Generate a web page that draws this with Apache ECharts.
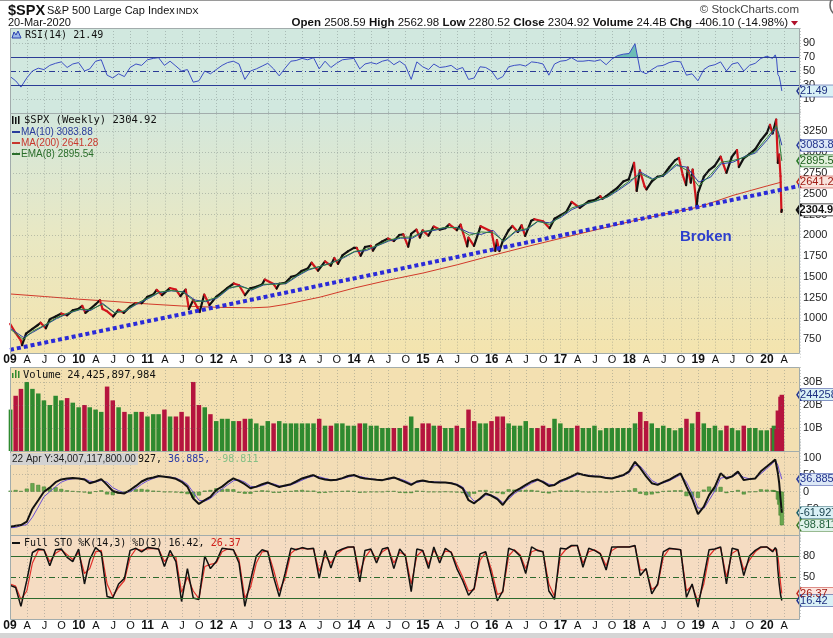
<!DOCTYPE html>
<html>
<head>
<meta charset="utf-8">
<title>$SPX S&amp;P 500 Large Cap Index - weekly</title>
<script src="https://cdn.jsdelivr.net/npm/echarts@6/dist/echarts.min.js"></script>
<style>
  html, body { margin: 0; padding: 0; background: #fff; }
  #chart { width: 833px; height: 638px; }
</style>
</head>
<body>
<div id="chart"></div>
<script>
// ---- data ----
// weekly close / swing points of $SPX
const spx = [
  ['2009-01-02', 931], ['2009-01-30', 826], ['2009-02-27', 735], ['2009-03-06', 676], ['2009-03-27', 816],
  ['2009-04-30', 873], ['2009-05-29', 919], ['2009-06-12', 946], ['2009-07-10', 880], ['2009-07-31', 987],
  ['2009-08-31', 1021], ['2009-09-30', 1057], ['2009-10-30', 1036], ['2009-11-30', 1096], ['2009-12-31', 1115],
  ['2010-01-19', 1150], ['2010-02-05', 1066], ['2010-02-26', 1104], ['2010-03-31', 1169], ['2010-04-23', 1217],
  ['2010-05-07', 1111], ['2010-05-28', 1089], ['2010-07-02', 1022], ['2010-07-30', 1102], ['2010-08-27', 1065],
  ['2010-09-30', 1141], ['2010-10-29', 1183], ['2010-11-30', 1181], ['2010-12-31', 1258],
  ['2011-01-31', 1286], ['2011-02-18', 1343], ['2011-03-18', 1279], ['2011-04-29', 1364], ['2011-05-31', 1345],
  ['2011-06-24', 1268], ['2011-07-22', 1346], ['2011-08-08', 1110], ['2011-08-31', 1219], ['2011-09-22', 1130],
  ['2011-10-04', 1075], ['2011-10-28', 1285], ['2011-11-25', 1159], ['2011-12-30', 1258],
  ['2012-01-31', 1312], ['2012-02-29', 1366], ['2012-04-02', 1419], ['2012-04-30', 1398], ['2012-06-01', 1278],
  ['2012-06-29', 1362], ['2012-07-31', 1379], ['2012-08-31', 1407], ['2012-09-14', 1466], ['2012-10-31', 1412],
  ['2012-11-16', 1359], ['2012-11-30', 1416], ['2012-12-31', 1426],
  ['2013-01-31', 1498], ['2013-02-28', 1515], ['2013-03-28', 1569], ['2013-04-30', 1598], ['2013-05-21', 1669],
  ['2013-06-24', 1573], ['2013-07-31', 1686], ['2013-08-30', 1633], ['2013-09-18', 1725], ['2013-10-08', 1656],
  ['2013-10-31', 1757], ['2013-11-29', 1806], ['2013-12-31', 1848],
  ['2014-01-15', 1848], ['2014-02-05', 1752], ['2014-02-28', 1859], ['2014-03-31', 1872], ['2014-04-11', 1815],
  ['2014-04-30', 1884], ['2014-05-30', 1924], ['2014-06-30', 1960], ['2014-07-31', 1931], ['2014-08-29', 2003],
  ['2014-09-19', 2011], ['2014-10-15', 1862], ['2014-10-31', 2018], ['2014-11-28', 2068], ['2014-12-16', 1973],
  ['2014-12-31', 2059],
  ['2015-01-30', 1995], ['2015-02-27', 2105], ['2015-03-31', 2068], ['2015-04-30', 2086], ['2015-05-21', 2131],
  ['2015-06-30', 2063], ['2015-07-20', 2128], ['2015-08-24', 1867], ['2015-08-31', 1972], ['2015-09-29', 1872],
  ['2015-10-30', 2079], ['2015-11-03', 2109], ['2015-12-31', 2044],
  ['2016-01-20', 1812], ['2016-01-29', 1940], ['2016-02-11', 1810], ['2016-02-29', 1932], ['2016-03-31', 2060],
  ['2016-04-20', 2111], ['2016-05-19', 2040], ['2016-06-08', 2120], ['2016-06-27', 1992], ['2016-07-29', 2174],
  ['2016-08-15', 2193], ['2016-09-30', 2168], ['2016-11-04', 2085], ['2016-11-30', 2199], ['2016-12-30', 2239],
  ['2017-01-31', 2279], ['2017-03-01', 2401], ['2017-04-13', 2329], ['2017-05-31', 2412], ['2017-06-30', 2423],
  ['2017-07-31', 2470], ['2017-08-11', 2438], ['2017-08-31', 2472], ['2017-09-29', 2519], ['2017-10-31', 2575],
  ['2017-11-30', 2648], ['2017-12-29', 2674],
  ['2018-01-26', 2873], ['2018-02-09', 2533], ['2018-02-26', 2780], ['2018-03-23', 2588], ['2018-04-02', 2553],
  ['2018-04-30', 2648], ['2018-05-31', 2705], ['2018-06-29', 2718], ['2018-07-31', 2816], ['2018-08-31', 2902],
  ['2018-09-21', 2930], ['2018-10-11', 2728], ['2018-10-29', 2603], ['2018-11-07', 2814], ['2018-11-23', 2633],
  ['2018-12-03', 2790], ['2018-12-24', 2351], ['2018-12-31', 2507],
  ['2019-01-31', 2704], ['2019-02-28', 2784], ['2019-03-29', 2834], ['2019-04-30', 2946], ['2019-05-31', 2752],
  ['2019-06-28', 2942], ['2019-07-26', 3026], ['2019-08-05', 2822], ['2019-08-30', 2926], ['2019-09-30', 2977],
  ['2019-10-31', 3038], ['2019-11-29', 3141], ['2019-12-31', 3231],
  ['2020-01-17', 3330], ['2020-01-31', 3226], ['2020-02-19', 3393], ['2020-02-28', 2870], ['2020-03-06', 2972],
  ['2020-03-13', 2711], ['2020-03-18', 2281], ['2020-03-20', 2304.92]
];

const ma10 = [
  ['2009-01-02', 880], ['2009-03-13', 770], ['2009-05-01', 830], ['2009-07-02', 910], ['2009-09-04', 995],
  ['2009-11-06', 1060], ['2010-01-08', 1105], ['2010-03-05', 1095], ['2010-05-07', 1180], ['2010-07-09', 1070],
  ['2010-09-03', 1085], ['2010-11-05', 1170], ['2011-01-07', 1240], ['2011-03-04', 1310], ['2011-05-06', 1330],
  ['2011-07-08', 1320], ['2011-09-09', 1220], ['2011-11-04', 1200], ['2012-01-06', 1245], ['2012-03-09', 1360],
  ['2012-05-04', 1395], ['2012-07-06', 1340], ['2012-09-07', 1400], ['2012-11-09', 1420], ['2013-01-04', 1415],
  ['2013-03-08', 1510], ['2013-05-03', 1580], ['2013-07-05', 1625], ['2013-09-06', 1670], ['2013-11-08', 1730],
  ['2014-01-03', 1800], ['2014-03-07', 1815], ['2014-05-02', 1870], ['2014-07-04', 1930], ['2014-09-05', 1965],
  ['2014-11-07', 1965], ['2015-01-02', 2040], ['2015-03-06', 2060], ['2015-05-01', 2090], ['2015-07-03', 2095],
  ['2015-09-04', 2030], ['2015-11-06', 2010], ['2016-01-08', 2060], ['2016-03-04', 1920], ['2016-05-06', 2040],
  ['2016-07-08', 2070], ['2016-09-02', 2165], ['2016-11-04', 2150], ['2017-01-06', 2220], ['2017-03-03', 2310],
  ['2017-05-05', 2370], ['2017-07-07', 2410], ['2017-09-08', 2460], ['2017-11-03', 2540], ['2018-01-05', 2640],
  ['2018-03-02', 2760], ['2018-05-04', 2680], ['2018-07-06', 2720], ['2018-09-07', 2840], ['2018-11-02', 2820],
  ['2019-01-04', 2640], ['2019-03-08', 2700], ['2019-05-03', 2860], ['2019-07-05', 2880], ['2019-09-06', 2950],
  ['2019-11-01', 2990], ['2020-01-03', 3150], ['2020-02-21', 3300], ['2020-03-06', 3210], ['2020-03-20', 3083.88]
];

const ema8 = [
  ['2009-01-02', 870], ['2009-03-13', 745], ['2009-05-01', 845], ['2009-07-02', 915], ['2009-09-04', 1005],
  ['2009-11-06', 1065], ['2010-01-08', 1110], ['2010-03-05', 1105], ['2010-05-07', 1170], ['2010-07-09', 1065],
  ['2010-09-03', 1090], ['2010-11-05', 1180], ['2011-01-07', 1250], ['2011-03-04', 1315], ['2011-05-06', 1335],
  ['2011-07-08', 1315], ['2011-09-09', 1200], ['2011-11-04', 1210], ['2012-01-06', 1255], ['2012-03-09', 1370],
  ['2012-05-04', 1385], ['2012-07-06', 1345], ['2012-09-07', 1410], ['2012-11-09', 1410], ['2013-01-04', 1425],
  ['2013-03-08', 1520], ['2013-05-03', 1590], ['2013-07-05', 1625], ['2013-09-06', 1665], ['2013-11-08', 1740],
  ['2014-01-03', 1805], ['2014-03-07', 1830], ['2014-05-02', 1875], ['2014-07-04', 1940], ['2014-09-05', 1975],
  ['2014-11-07', 1980], ['2015-01-02', 2045], ['2015-03-06', 2070], ['2015-05-01', 2095], ['2015-07-03', 2090],
  ['2015-09-04', 2000], ['2015-11-06', 2040], ['2016-01-08', 2030], ['2016-03-04', 1930], ['2016-05-06', 2050],
  ['2016-07-08', 2080], ['2016-09-02', 2170], ['2016-11-04', 2130], ['2017-01-06', 2235], ['2017-03-03', 2330],
  ['2017-05-05', 2375], ['2017-07-07', 2415], ['2017-09-08', 2465], ['2017-11-03', 2555], ['2018-01-05', 2660],
  ['2018-03-02', 2740], ['2018-05-04', 2670], ['2018-07-06', 2730], ['2018-09-07', 2860], ['2018-11-02', 2780],
  ['2019-01-04', 2590], ['2019-03-08', 2730], ['2019-05-03', 2880], ['2019-07-05', 2900], ['2019-09-06', 2940],
  ['2019-11-01', 3010], ['2020-01-03', 3180], ['2020-02-21', 3320], ['2020-03-06', 3150], ['2020-03-20', 2895.54]
];

const ma200 = [
  ['2009-01-02', 1293], ['2009-07-03', 1262], ['2010-01-01', 1230], ['2010-07-02', 1203], ['2011-01-07', 1172],
  ['2011-07-01', 1148], ['2012-01-06', 1132], ['2012-07-06', 1126], ['2012-10-05', 1135], ['2013-01-04', 1168],
  ['2013-07-05', 1255], ['2014-01-03', 1365], ['2014-07-04', 1460], ['2015-01-02', 1545], ['2015-07-03', 1645],
  ['2016-01-01', 1755], ['2016-07-01', 1860], ['2017-01-06', 1965], ['2017-07-07', 2065], ['2018-01-05', 2165],
  ['2018-07-06', 2255], ['2019-01-04', 2340], ['2019-07-05', 2480], ['2020-01-03', 2595], ['2020-03-20', 2641.28]
];

// hand-drawn support line
const trendLine = [['2009-01-01', 620], ['2020-06-24', 2595]];

// indicator panels: one value per month end, then the last weeks of 2020
const lastWeeks = ['2020-02-07', '2020-02-14', '2020-02-21', '2020-02-28', '2020-03-06', '2020-03-13', '2020-03-20'];

const rsi = [42,
  36, 27, 40, 50, 54, 52, 58, 61, 63, 55, 60, 62,   // 2009
  50, 53, 64, 66, 44, 40, 46, 42, 55, 60, 58, 66,   // 2010
  68, 69, 58, 64, 57, 50, 52, 34, 36, 50, 46, 52,   // 2011
  58, 62, 64, 60, 38, 50, 53, 57, 61, 53, 43, 54,   // 2012
  64, 65, 68, 66, 69, 53, 64, 55, 61, 66, 67, 68,   // 2013
  53, 60, 62, 60, 64, 66, 59, 64, 58, 38, 63, 56,   // 2014
  52, 60, 55, 56, 58, 52, 55, 38, 40, 56, 55, 50,   // 2015
  38, 42, 56, 58, 59, 57, 63, 62, 60, 44, 60, 64,   // 2016
  65, 69, 64, 64, 65, 64, 66, 59, 67, 72, 74, 75,   // 2017
  89, 50, 46, 52, 57, 58, 62, 64, 63, 44, 46, 36,   // 2018
  52, 57, 59, 63, 50, 60, 62, 50, 58, 61, 68, 71,   // 2019
  68, 70, 73, 67, 45, 42, 33, 21.49];               // 2020

// weekly volume, billions
const volume = [18,
  24, 27, 30, 27, 25, 22, 20, 24, 22, 23, 21, 19,
  20, 19, 18, 17, 28, 22, 19, 17, 16, 17, 17, 15,
  16, 16, 18, 15, 15, 17, 15, 30, 20, 19, 16, 13,
  14, 14, 13, 13, 14, 14, 12, 11, 13, 12, 13, 12,
  12, 12, 12, 12, 12, 14, 11, 11, 12, 12, 11, 11,
  12, 12, 11, 11, 10, 10, 10, 10, 11, 15, 10, 12,
  12, 11, 11, 10, 10, 11, 10, 18, 13, 12, 12, 13,
  15, 15, 12, 11, 11, 13, 10, 10, 11, 10, 14, 12,
  10, 10, 11, 10, 10, 11, 9, 10, 10, 10, 10, 10,
  12, 17, 13, 12, 10, 11, 10, 9, 10, 14, 12, 17,
  12, 10, 11, 9, 11, 10, 9, 11, 10, 10, 9, 9,
  10, 11, 9, 9.5, 17.6, 14, 23.6, 24.43];
const volumeDir = 'g' +
  'rrgggggggrgg' + 'rgggrrgrggrg' + 'ggrgrrrrrgrg' + 'gggrrggggrgg' +
  'gggggrgrgggg' + 'rgggggrgrggr' + 'rgrggrgrrggr' + 'rrgggggrrrgg' +
  'ggrggggggggg' + 'grrggggggrgr' + 'ggggrggrgggg' + 'rggrrrrr';

const oscLine = [-103,
  -100, -98, -88, -50, -25, 0, 12, 28, 36, 39, 40, 39,
  36, 25, 30, 37, 20, 2, -3, -5, 5, 17, 30, 38,
  42, 46, 44, 42, 38, 29, 15, -20, -36, -25, -15, 5,
  15, 28, 39, 32, 22, 10, 15, 22, 27, 20, 14, 18,
  22, 30, 39, 44, 49, 40, 36, 34, 35, 40, 46, 49,
  42, 39, 37, 35, 34, 38, 42, 35, 28, 20, 30, 33,
  29, 28, 27, 27, 25, 20, 10, -25, -34, -20, -5, -12,
  -22, -39, -15, 0, 10, 20, 30, 36, 28, 17, 20, 32,
  38, 45, 54, 50, 46, 45, 44, 40, 39, 44, 49, 60,
  88, 69, 45, 25, 20, 28, 35, 45, 54, 15, -20, -66,
  -44, -10, 15, 54, 39, 45, 59, 34, 37, 39, 60, 74,
  88, 92, 95, 93, 55, 25, -20, -61.927];
const oscSignal = [-106,
  -105, -100, -97, -75, -45, -15, 0, 15, 28, 35, 38, 39,
  38, 31, 29, 33, 28, 12, 3, -3, 0, 10, 22, 32,
  39, 44, 45, 43, 40, 33, 22, -2, -25, -28, -20, -5,
  8, 20, 32, 35, 28, 16, 13, 18, 24, 23, 17, 16,
  20, 26, 34, 41, 46, 44, 39, 35, 34, 38, 43, 47,
  45, 41, 38, 36, 35, 36, 40, 38, 32, 24, 27, 31,
  30, 29, 28, 27, 26, 22, 14, -10, -28, -24, -10, -10,
  -18, -32, -22, -6, 5, 15, 25, 33, 31, 22, 20, 28,
  35, 42, 50, 51, 48, 46, 45, 42, 40, 42, 47, 56,
  78, 75, 55, 33, 24, 26, 32, 41, 50, 28, -5, -48,
  -50, -25, 3, 40, 43, 44, 54, 42, 38, 39, 53, 68,
  83, 88, 93, 92, 78, 63, 50, 36.885];
const oscHist = [3,
  5, 2, 9, 25, 20, 15, 12, 13, 8, 4, 2, 0,
  -2, -6, 1, 4, -8, -10, -6, -2, 5, 7, 8, 6,
  3, 2, -1, -1, -2, -4, -7, -18, -11, 3, 5, 10,
  7, 8, 7, -3, -6, -6, 2, 4, 3, -3, -3, 2,
  2, 4, 5, 3, 3, -4, -3, -1, 1, 2, 3, 2,
  -3, -2, -1, -1, -1, 2, 2, -3, -4, -4, 3, 2,
  -1, -1, -1, 0, -1, -2, -4, -15, -6, 4, 5, -2,
  -4, -7, 7, 6, 5, 5, 5, 3, -3, -5, 0, 4,
  3, 3, 4, -1, -2, -1, -1, -2, -1, 2, 2, 4,
  10, -6, -10, -8, -4, 2, 3, 4, 4, -13, -15, -18,
  6, 15, 12, 14, -4, 1, 5, -8, -1, 0, 7, 6,
  5, 4, 2, 1, -23, -38, -70, -98.811];

const stoK = [38,
  35, 8, 45, 85, 90, 89, 66, 89, 90, 78, 72, 90,
  40, 75, 92, 85, 22, 20, 40, 48, 88, 91, 86, 92,
  91, 90, 65, 88, 72, 15, 62, 20, 18, 80, 62, 72,
  91, 90, 89, 70, 8, 45, 80, 89, 86, 50, 22, 55,
  91, 89, 92, 90, 91, 48, 88, 63, 86, 90, 93, 93,
  43, 88, 90, 70, 90, 92, 62, 90, 80, 29, 90, 88,
  62, 93, 70, 91, 85, 62, 45, 24, 34, 83, 86, 52,
  16, 30, 91, 88, 80, 55, 93, 88, 86, 30, 18, 91,
  90, 95, 95, 64, 91, 88, 83, 60, 93, 93, 93, 93,
  95, 52, 62, 26, 40, 86, 91, 90, 89, 21, 40, 7,
  50, 89, 90, 93, 40, 91, 89, 52, 80, 88, 93, 93,
  86, 88, 92, 89, 60, 40, 25, 16.42];
const stoD = [40,
  37, 18, 30, 70, 88, 89, 72, 84, 89, 82, 75, 85,
  55, 62, 86, 88, 40, 22, 35, 45, 78, 90, 88, 90,
  91, 90, 72, 82, 78, 28, 50, 30, 19, 65, 68, 70,
  86, 90, 89, 75, 20, 35, 70, 86, 87, 60, 30, 48,
  84, 90, 91, 90, 90, 58, 80, 70, 82, 89, 92, 93,
  55, 78, 89, 75, 86, 91, 70, 85, 82, 40, 80, 88,
  68, 88, 76, 87, 86, 68, 50, 30, 32, 74, 85, 60,
  25, 28, 80, 89, 82, 62, 86, 89, 86, 40, 22, 80,
  90, 94, 95, 70, 86, 89, 84, 66, 88, 93, 93, 93,
  94, 60, 60, 32, 38, 78, 90, 90, 89, 30, 38, 15,
  40, 80, 90, 92, 50, 84, 89, 60, 74, 86, 92, 93,
  88, 88, 90, 90, 80, 63, 42, 26.37];

const priceTicks = [750, 1000, 1250, 1500, 1750, 2000, 2250, 2500, 2750, 3000, 3250];
const rsiTicks = [10, 30, 50, 70, 90];
const volumeTicks = [10, 20, 30];
const oscTicks = [-100, -50, 0, 50, 100];
const stoTicks = [20, 50, 80];

// ---- helpers ----
const X_MIN = 2009, X_MAX = 2020.48;
const pad = n => String(n).padStart(2, '0');
function toYear(s) {
  const [y, m, d] = s.split('-').map(Number);
  const a = Date.UTC(y, 0, 1), b = Date.UTC(y + 1, 0, 1);
  return y + (Date.UTC(y, m - 1, d) - a) / (b - a);
}
const timeline = ['2009-01-02'];
for (let y = 2009; y <= 2019; y++) {
  for (let m = 1; m <= 12; m++) timeline.push(y + '-' + pad(m) + '-' + pad(new Date(Date.UTC(y, m, 0)).getUTCDate()));
}
timeline.push('2020-01-31', ...lastWeeks);
const tl = timeline.map(toYear);
const onTimeline = arr => arr.map((v, i) => [tl[i], v]);
const dated = arr => arr.map(([d, v]) => [toYear(d), v]);
const last = arr => arr[arr.length - 1];

const spxT = dated(spx);
const spxSegments = spxT.slice(1).map((p, i) => [spxT[i][0], spxT[i][1], p[0], p[1]]);

function quarterLabel(v) {
  const yr = Math.round(v);
  if (Math.abs(v - yr) < 1e-6) return '{y|' + String(yr).slice(2) + '}';
  const f = v - Math.floor(v);
  if (Math.abs(f * 4 - Math.round(f * 4)) > 1e-6) return '';
  return f < 0.3 ? 'A' : f < 0.6 ? 'J' : 'O';
}
const onlyTicks = (ticks, suffix) => v => (ticks.indexOf(v) >= 0 ? v + (suffix || '') : '');

function tag(value, text, border, fill, color, bold) {
  return {
    coord: [X_MAX, value],
    symbol: 'path://M0,6L6,0L60,0L60,12L6,12Z',
    symbolSize: [40, 12],
    symbolOffset: [17, 0],
    itemStyle: { color: fill, borderColor: border, borderWidth: bold ? 1.6 : 1 },
    label: {
      show: true, position: 'insideLeft', distance: 4, formatter: text, color: color,
      fontSize: 11, fontFamily: 'Liberation Sans', fontWeight: bold ? 'bold' : 'normal'
    }
  };
}

const gridLineStyle = { color: 'rgba(105,115,115,0.38)', type: [1, 2], width: 1 };

function xAx(i, show, margin) {
  return {
    gridIndex: i, type: 'value', min: X_MIN, max: X_MAX, interval: 0.25,
    axisLine: { show: false }, axisTick: { show: false },
    splitLine: { show: true, lineStyle: gridLineStyle },
    axisLabel: {
      show: show, margin: margin, verticalAlign: 'middle', color: '#111', fontSize: 11,
      fontFamily: 'Liberation Sans', formatter: quarterLabel, showMaxLabel: false,
      rich: { y: { fontSize: 12, fontWeight: 'bold', fontFamily: 'Liberation Sans', color: '#111' } }
    }
  };
}
function yAx(i, min, max, interval, fmt) {
  return {
    gridIndex: i, type: 'value', position: 'right', min, max, interval,
    axisLine: { show: false }, axisTick: { show: false }, splitLine: { show: false },
    axisLabel: { margin: 3, color: '#222', fontSize: 11, fontFamily: 'Liberation Sans', formatter: fmt }
  };
}
const faintLines = ticks => ({
  silent: true, symbol: 'none', label: { show: false },
  data: ticks.map(v => ({ yAxis: v, lineStyle: gridLineStyle }))
});

// ---- panel frames and texts ----
const panels = [
  { y0: 28, y1: 113, fill: '#d1e8df' },
  { y0: 113, y1: 353, fill: new echarts.graphic.LinearGradient(0, 0, 0, 1, [
      { offset: 0, color: '#d3e7dc' }, { offset: 0.5, color: '#e8e8c4' }, { offset: 1, color: '#f4e4ae' }]) },
  { y0: 367, y1: 451, fill: '#f3e0b1' },
  { y0: 451, y1: 535, fill: '#f3ddb6' },
  { y0: 535, y1: 619, fill: '#f5dcc2' }
];
const graphics = [];
panels.forEach(p => {
  graphics.push({ type: 'rect', z: -10, shape: { x: 10, y: p.y0, width: 790, height: p.y1 - p.y0 }, style: { fill: p.fill } });
  graphics.push({ type: 'rect', z: 50, shape: { x: 10.5, y: p.y0 + 0.5, width: 789, height: p.y1 - p.y0 }, style: { fill: 'none', stroke: '#a2acac', lineWidth: 1 } });
});
const mono = 'DejaVu Sans Mono';
function txt(x, y, text, font, fill, extra) {
  return { type: 'text', z: 60, x, y, style: Object.assign({ text, font, fill, verticalAlign: 'middle' }, extra || {}) };
}
graphics.push(
  { type: 'rect', z: 60, shape: { x: 0, y: 0, width: 833, height: 1 }, style: { fill: '#9a9a9a' } },
  { type: 'rect', z: 60, shape: { x: 0, y: 633, width: 833, height: 5 }, style: { fill: '#d5d5d5' } },
  { type: 'circle', z: 60, shape: { cx: 842, cy: 5, r: 12 }, style: { fill: 'none', stroke: '#666', lineWidth: 1.5 } },
  txt(8, 11, '$SPX', 'bold 14.5px "Liberation Sans"', '#111'),
  txt(47, 11, 'S&P 500 Large Cap Index', '11px "Liberation Sans"', '#111'),
  txt(176, 11, 'INDX', '9.5px "Liberation Sans"', '#111'),
  txt(8, 23, '20-Mar-2020', '11px "Liberation Sans"', '#111'),
  txt(799, 10, '\u00a9 StockCharts.com', '11.5px "Liberation Sans"', '#444', { align: 'right' }),
  { type: 'text', z: 60, x: 788, y: 23, style: {
      text: '{b|Open} 2508.59 {b|High} 2562.98 {b|Low} 2280.52 {b|Close} 2304.92 {b|Volume} 24.4B {b|Chg} -406.10 (-14.98%)',
      font: '11.5px "Liberation Sans"', fill: '#111', align: 'right', verticalAlign: 'middle',
      rich: { b: { font: 'bold 11.5px "Liberation Sans"', fill: '#111' } } } },
  { type: 'polygon', z: 60, shape: { points: [[791, 21], [798, 21], [794.5, 25.5]] }, style: { fill: '#b0102a' } },
  // RSI legend
  { type: 'polygon', z: 60, shape: { points: [[12, 38], [14, 32], [16, 35], [18, 31], [21, 38]] }, style: { fill: '#9cb8e8', stroke: '#2a40b0', lineWidth: 1 } },
  txt(25, 35, 'RSI(14) 21.49', '10px "' + mono + '"', '#111'),
  // price legend
  { type: 'rect', z: 60, shape: { x: 12, y: 116, width: 1.5, height: 8 }, style: { fill: '#111' } },
  { type: 'rect', z: 60, shape: { x: 15, y: 117, width: 1.5, height: 7 }, style: { fill: '#111' } },
  { type: 'rect', z: 60, shape: { x: 18, y: 116, width: 1.5, height: 8 }, style: { fill: '#111' } },
  txt(24, 120, '$SPX (Weekly) 2304.92', '10.5px "' + mono + '"', '#111'),
  { type: 'rect', z: 60, shape: { x: 12, y: 131, width: 8, height: 2 }, style: { fill: '#2a3c9c' } },
  txt(21, 132, 'MA(10) 3083.88', '10px "Liberation Sans"', '#2a3c9c'),
  { type: 'rect', z: 60, shape: { x: 12, y: 142, width: 8, height: 2 }, style: { fill: '#c8372d' } },
  txt(21, 143, 'MA(200) 2641.28', '10px "Liberation Sans"', '#c8372d'),
  { type: 'rect', z: 60, shape: { x: 12, y: 153, width: 8, height: 2 }, style: { fill: '#2a6e2a' } },
  txt(21, 154, 'EMA(8) 2895.54', '10px "Liberation Sans"', '#2a6e2a'),
  txt(680, 237, 'Broken', 'bold 15px "Liberation Sans"', '#2d3fcc'),
  // volume legend
  { type: 'rect', z: 60, shape: { x: 12, y: 373, width: 1.5, height: 5 }, style: { fill: '#2f8a2f' } },
  { type: 'rect', z: 60, shape: { x: 15, y: 370, width: 1.5, height: 8 }, style: { fill: '#2f8a2f' } },
  { type: 'rect', z: 60, shape: { x: 18, y: 371, width: 1.5, height: 7 }, style: { fill: '#2f8a2f' } },
  txt(23, 375, 'Volume 24,425,897,984', '10.5px "' + mono + '"', '#111'),
  // oscillator legend, partly covered by the hover box
  { type: 'rect', z: 60, shape: { x: 10, y: 453, width: 128, height: 12 }, style: { fill: '#d2d2d2' } },
  txt(12, 459, '22 Apr Y:34,007,117,800.00', '10px "Liberation Sans"', '#222'),
  { type: 'text', z: 60, x: 138, y: 459, style: {
      text: '{k|927, }{s|36.885, }{h|-98.811}', font: '10px "' + mono + '"', verticalAlign: 'middle',
      rich: { k: { fill: '#111', font: '10px "' + mono + '"' }, s: { fill: '#2a3aa8', font: '10px "' + mono + '"' }, h: { fill: '#86c086', font: '10px "' + mono + '"' } } } },
  // STO legend
  { type: 'rect', z: 60, shape: { x: 12, y: 542, width: 8, height: 2 }, style: { fill: '#111' } },
  { type: 'text', z: 60, x: 24, y: 543, style: {
      text: '{k|Full STO %K(14,3) %D(3) 16.42, }{d|26.37}', font: '10px "' + mono + '"', verticalAlign: 'middle',
      rich: { k: { fill: '#111', font: '10px "' + mono + '"' }, d: { fill: '#d0201a', font: '10px "' + mono + '"' } } } }
);

// ---- chart ----
const chart = echarts.init(document.getElementById('chart'), null, { renderer: 'canvas' });
const lvl = (v, color, type) => ({ yAxis: v, lineStyle: { color, width: 1, type } });
const dashDot = [6, 3, 1, 3];

chart.setOption({
  animation: false,
  textStyle: { fontFamily: 'Liberation Sans' },
  graphic: { elements: graphics },
  grid: [
    { left: 10, right: 33, top: 28, height: 85, outerBoundsMode: 'none' },
    { left: 10, right: 33, top: 110.7, height: 249.1, outerBoundsMode: 'none' },
    { left: 10, right: 33, top: 367, height: 84, outerBoundsMode: 'none' },
    { left: 10, right: 33, top: 440.7, height: 102, outerBoundsMode: 'none' },
    { left: 10, right: 33, top: 535, height: 84, outerBoundsMode: 'none' }
  ],
  xAxis: [xAx(0, false, 0), xAx(1, true, 0), xAx(2, false, 0), xAx(3, false, 0), xAx(4, true, 7)],
  yAxis: [
    yAx(0, -10, 111.4, 20, onlyTicks(rsiTicks)),
    yAx(1, 500, 3500, 250, onlyTicks(priceTicks)),
    yAx(2, 0, 36.5, 10, onlyTicks(volumeTicks, 'B')),
    yAx(3, -150, 150, 50, onlyTicks(oscTicks)),
    yAx(4, -10, 110, 30, onlyTicks(stoTicks))
  ],
  visualMap: [{
    show: false, type: 'piecewise', seriesIndex: 0, dimension: 1,
    pieces: [{ gte: -50, lt: 70, color: 'rgba(0,0,0,0)' }, { gte: 70, lte: 150, color: '#6cbdb6' }]
  }],
  series: [
    { // RSI overbought fill
      type: 'line', xAxisIndex: 0, yAxisIndex: 0, data: onTimeline(rsi), symbol: 'none',
      lineStyle: { width: 0 }, areaStyle: { origin: 'start', opacity: 1 }, silent: true, z: 1
    },
    {
      name: 'RSI(14)', type: 'line', xAxisIndex: 0, yAxisIndex: 0, data: onTimeline(rsi), symbol: 'none',
      lineStyle: { color: '#3c4fc4', width: 1 }, itemStyle: { color: '#3c4fc4' },
      markLine: { silent: true, symbol: 'none', label: { show: false },
        data: [lvl(70, '#2b3c96', 'solid'), lvl(30, '#2b3c96', 'solid'), lvl(50, '#2b3c96', dashDot),
               { yAxis: 10, lineStyle: gridLineStyle }, { yAxis: 90, lineStyle: gridLineStyle }] },
      markPoint: { silent: true, data: [tag(last(rsi), String(last(rsi)), '#23358f', '#d9f1f6', '#1d2f80')] }
    },
    { // price, coloured per move
      name: '$SPX', type: 'custom', xAxisIndex: 1, yAxisIndex: 1, data: spxSegments,
      encode: { x: [0, 2], y: [1, 3] }, z: 4,
      renderItem: (params, api) => {
        const a = api.coord([api.value(0), api.value(1)]);
        const b = api.coord([api.value(2), api.value(3)]);
        const down = api.value(3) < api.value(1);
        return { type: 'line', shape: { x1: a[0], y1: a[1], x2: b[0], y2: b[1] },
          style: { stroke: down ? '#d2141c' : '#111', lineWidth: 2.2, lineCap: 'round' } };
      }
    },
    {
      name: 'MA(200)', type: 'line', xAxisIndex: 1, yAxisIndex: 1, data: dated(ma200), symbol: 'none',
      lineStyle: { color: '#d23a2a', width: 1 }, itemStyle: { color: '#d23a2a' },
      markLine: faintLines(priceTicks),
      markPoint: { silent: true, data: [
        tag(last(ma10)[1], '3083.88', '#2a3c9c', '#dce8f6', '#22338c'),
        tag(last(ema8)[1], '2895.54', '#2a7a2a', '#e2f1dc', '#1f5f1f'),
        tag(last(ma200)[1], '2641.28', '#c02a20', '#f9e3dc', '#a01c14'),
        tag(last(spx)[1], '2304.92', '#111', '#fff', '#111', true)
      ] }
    },
    {
      name: 'MA(10)', type: 'line', xAxisIndex: 1, yAxisIndex: 1, data: dated(ma10), symbol: 'none', z: 5,
      lineStyle: { color: '#2a3fa8', width: 1 }, itemStyle: { color: '#2a3fa8' }
    },
    {
      name: 'EMA(8)', type: 'line', xAxisIndex: 1, yAxisIndex: 1, data: dated(ema8), symbol: 'none', z: 5,
      lineStyle: { color: '#2f7f3a', width: 1 }, itemStyle: { color: '#2f7f3a' }
    },
    {
      name: 'trend', type: 'line', xAxisIndex: 1, yAxisIndex: 1, data: dated(trendLine), symbol: 'none', z: 6,
      lineStyle: { color: '#2b2bd8', width: 4, type: [4, 3], cap: 'butt' }
    },
    {
      name: 'Volume', type: 'bar', xAxisIndex: 2, yAxisIndex: 2, barWidth: 4.5,
      data: volume.map((v, i) => ({ value: [tl[i], v], itemStyle: { color: volumeDir[i] === 'g' ? '#2f8a2f' : '#b5143e' } })),
      markLine: faintLines(volumeTicks),
      markPoint: { silent: true, data: [tag(last(volume), '24425897984', '#23358f', '#d9f1f6', '#1d2f80')] }
    },
    {
      name: 'hist', type: 'bar', xAxisIndex: 3, yAxisIndex: 3, barWidth: 4, data: onTimeline(oscHist),
      itemStyle: { color: '#6aa84f', borderColor: '#3b7a2a', borderWidth: 0.5 },
      markLine: faintLines(oscTicks)
    },
    {
      name: 'signal', type: 'line', xAxisIndex: 3, yAxisIndex: 3, data: onTimeline(oscSignal), symbol: 'none',
      lineStyle: { color: '#6a4fd6', width: 1 }, itemStyle: { color: '#6a4fd6' }
    },
    {
      name: 'line', type: 'line', xAxisIndex: 3, yAxisIndex: 3, data: onTimeline(oscLine), symbol: 'none',
      lineStyle: { color: '#111', width: 2 }, itemStyle: { color: '#111' },
      markPoint: { silent: true, data: [
        tag(last(oscSignal), '36.885', '#2a3c9c', '#dce8f6', '#22338c'),
        tag(last(oscLine), '-61.927', '#1f5f6a', '#d9f1f6', '#123c48'),
        tag(last(oscHist), '-98.811', '#3b7a2a', '#dff2ea', '#1f5f3a')
      ] }
    },
    {
      name: '%D', type: 'line', xAxisIndex: 4, yAxisIndex: 4, data: onTimeline(stoD), symbol: 'none',
      lineStyle: { color: '#e0302a', width: 1.2 }, itemStyle: { color: '#e0302a' }
    },
    {
      name: '%K', type: 'line', xAxisIndex: 4, yAxisIndex: 4, data: onTimeline(stoK), symbol: 'none',
      lineStyle: { color: '#111', width: 1.5 }, itemStyle: { color: '#111' },
      markLine: { silent: true, symbol: 'none', label: { show: false },
        data: [lvl(80, '#2d6a2d', 'solid'), lvl(20, '#2d6a2d', 'solid'), lvl(50, '#2d6a2d', dashDot)] },
      markPoint: { silent: true, data: [
        tag(last(stoD), '26.37', '#c02a20', '#fbe6e0', '#a01c14'),
        tag(last(stoK), '16.42', '#23358f', '#d9f1f6', '#1d2f80')
      ] }
    }
  ]
});
</script>
</body>
</html>
